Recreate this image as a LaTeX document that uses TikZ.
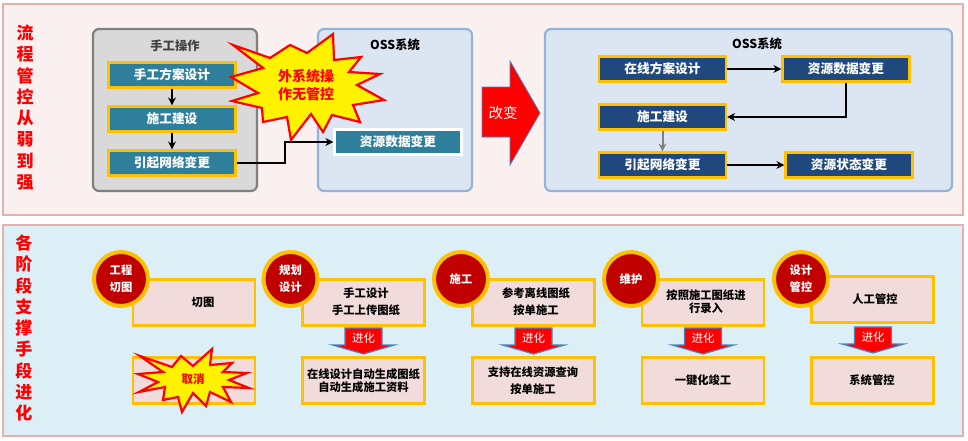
\documentclass[tikz,border=0pt]{standalone}
\usepackage{fontspec}
\setmainfont{Noto Sans CJK SC}
\usetikzlibrary{arrows.meta}
\definecolor{panelA}{HTML}{FBF0F0}
\definecolor{panelB}{HTML}{DCEFF6}
\definecolor{panelEdge}{HTML}{E8AFAF}
\definecolor{teal}{HTML}{2E7F9C}
\definecolor{navy}{HTML}{1F497D}
\definecolor{gold}{HTML}{FFC000}
\definecolor{darkred}{HTML}{C00000}
\definecolor{pinkbox}{HTML}{F2DCDB}
\definecolor{ossfill}{HTML}{DCE6F2}
\definecolor{ossedge}{HTML}{95B3D7}
\definecolor{arrowedge}{HTML}{4F81BD}
\tikzset{
  x=1pt,y=-1pt,
  panel/.style={draw=panelEdge,line width=1.2pt},
  group/.style={rounded corners=6pt,line width=2.2pt},
  flowbox/.style={draw=gold,line width=2.2pt,text=white,font=\fontsize{12.7}{15}\selectfont\bfseries,minimum width=127pt,minimum height=25pt,inner sep=0pt},
  tealbox/.style={flowbox,fill=teal},
  navybox/.style={flowbox,fill=navy},
  stagebox/.style={draw=gold,fill=pinkbox,line width=2.4pt,minimum width=122pt,minimum height=46pt,inner sep=0pt},
  stagetext/.style={font=\fontsize{11.3}{17}\selectfont\bfseries,text=black,align=center,inner sep=0pt},
  badge/.style={circle,draw=gold,fill=darkred,line width=4pt,minimum size=54pt,inner sep=0pt,text=white,align=center,font=\fontsize{11.3}{17}\selectfont\bfseries},
  vlabel/.style={text=red,font=\fontsize{17}{21}\selectfont\bfseries,inner sep=0pt},
  title/.style={font=\fontsize{12.3}{15}\selectfont\bfseries,inner sep=0pt},
  link/.style={draw=black,line width=1.6pt,-{Stealth[length=8pt,width=8pt]}},
  burst/.style={draw=red,fill=yellow,line width=2.2pt,line join=miter},
  evolve/.style={draw=arrowedge,fill=red,line width=1.2pt},
  evolvetext/.style={text=white,font=\fontsize{11.5}{14}\selectfont,inner sep=0pt},
}
\newcommand{\evolvearrow}[3]{% name, centre x, top y
  \draw[evolve] (#2-18.5,#3) -- (#2+18.5,#3) -- (#2+18.5,#3+17) -- (#2+31,#3+17) -- (#2,#3+26) -- (#2-31,#3+17) -- (#2-18.5,#3+17) -- cycle;
  \node[evolvetext] (#1) at (#2,#3+10) {进化};
}
\begin{document}
\begin{tikzpicture}
\useasboundingbox (0,0) rectangle (968,440);
\fill[white] (0,0) rectangle (968,440);
% panels
\draw[panel,fill=panelA] (3,4) rectangle (963,215);
\draw[panel,fill=panelB] (3,225) rectangle (963,436);
% vertical labels
\foreach \t [count=\i from 0] in {流,程,管,控,从,弱,到,强}
  \node[vlabel] (va\i) at (25,33+21.3*\i) {\t};
\foreach \t [count=\i from 0] in {各,阶,段,支,撑,手,段,进,化}
  \node[vlabel] (vb\i) at (24,243+21.3*\i) {\t};
% groups
\draw[group,fill=black!15,draw=black!50] (93,29) rectangle (257,191);
\draw[group,fill=ossfill,draw=ossedge] (318,29) rectangle (472,191);
\draw[group,fill=ossfill,draw=ossedge] (545,29) rectangle (952,191);
\node[title,text=black!75] (tman) at (175,46) {手工操作};
\node[title] (toss1) at (395,45) {OSS系统};
\node[title] (toss2) at (757,44) {OSS系统};
% left flow
\node[tealbox] (m1) at (172,75) {手工方案设计};
\node[tealbox] (m2) at (172,119) {施工建设};
\node[tealbox] (m3) at (172,163) {引起网络变更};
\node[tealbox,draw=white] (res) at (398,142) {资源数据变更};
\coordinate (k) at (285,142);
\draw[link] (m1) -- (m2);
\draw[link] (m2) -- (m3);
\draw[link] (m3.east) -- (m3.east -| k) -- (k) -- (res.west);
% burst 1
\draw[burst] (233,45)--(270,58)--(290,45)--(307,53)--(333,34)--(334,60)--(361,57)--(349,72)--(380,74)--(357,85)--(384,100)--(353,105)--(360,122)--(332,115)--(323,132)--(311,114)--(291,140)--(287,117)--(263,122)--(262,108)--(232,101)--(258,93)--(231,77)--(263,68)--cycle;
\node[text=red,font=\fontsize{14}{17.5}\selectfont\bfseries,align=center,inner sep=0pt] (bt1) at (306,85) {外系统操\\作无管控};
% change arrow
\draw[draw=arrowedge,fill=red,line width=.8pt] (482,87) -- (510,87) -- (510,61) -- (540,113) -- (510,165) -- (510,137) -- (482,137) -- cycle;
\node[text=white,font=\fontsize{14.5}{17}\selectfont,inner sep=0pt] (chg) at (503,113) {改变};
% right flow
\node[navybox] (r1) at (662.5,69) {在线方案设计};
\node[navybox] (r2) at (846,69) {资源数据变更};
\node[navybox] (r3) at (662.5,117) {施工建设};
\node[navybox] (r4) at (662.5,165) {引起网络变更};
\node[navybox] (r5) at (849,165) {资源状态变更};
\draw[link] (r1) -- (r2);
\draw[link] (r2.south) |- (r3.east);
\draw[link,draw=black!50,line width=2pt] (r3) -- (r4);
\draw[link] (r4) -- (r5);
% stage boxes
\node[stagebox] (a1) at (194,302.5) {};
\node[stagetext] at (203,302) {切图};
\node[stagebox] (a2) at (194,380.5) {};
\node[stagebox] (b1) at (363.5,302.5) {};
\node[stagetext] at (366,302) {手工设计\\手工上传图纸};
\node[stagebox] (b2) at (363.5,380.5) {};
\node[stagetext,font=\fontsize{11.3}{13}\selectfont\bfseries] at (363.5,381) {在线设计自动生成图纸\\自动生成施工资料};
\node[stagebox] (c1) at (533.5,302.5) {};
\node[stagetext] at (536,302) {参考离线图纸\\按单施工};
\node[stagebox] (c2) at (533.5,380.5) {};
\node[stagetext] at (533,381) {支持在线资源查询\\按单施工};
\node[stagebox] (d1) at (703,302.5) {};
\node[stagetext,font=\fontsize{11.3}{13}\selectfont\bfseries] at (706,302) {按照施工图纸进\\行录入};
\node[stagebox] (d2) at (703,380.5) {};
\node[stagetext] at (703,380) {一键化竣工};
\node[stagebox] (e1) at (872.5,299.5) {};
\node[stagetext] at (875,299) {人工管控};
\node[stagebox] (e2) at (872.5,380.5) {};
\node[stagetext] at (872,380) {系统管控};
% badges
\node[badge] (s1) at (121,279) {工程\\切图};
\node[badge] (s2) at (290.5,279) {规划\\设计};
\node[badge] (s3) at (461,279) {施工};
\node[badge] (s4) at (631,279) {维护};
\node[badge] (s5) at (801,279) {设计\\管控};
% evolve arrows
\evolvearrow{ev1}{363.5}{328}
\evolvearrow{ev2}{533.5}{328}
\evolvearrow{ev3}{703}{328}
\evolvearrow{ev4}{873}{327}
% burst 2
\draw[burst] (140,356)--(172,367)--(181,356)--(193,366)--(212,349)--(210,365)--(232,363)--(223,372)--(247,373)--(229,380)--(249,388)--(223,387)--(231,402)--(210,392)--(206,406)--(193,393)--(182,412)--(178,397)--(163,400)--(165,387)--(139,392)--(158,382)--(138,374)--(163,372)--cycle;
\node[text=red,font=\fontsize{11.5}{14}\selectfont\bfseries,inner sep=0pt] (bt2) at (193,379) {取消};
\end{tikzpicture}
\end{document}
